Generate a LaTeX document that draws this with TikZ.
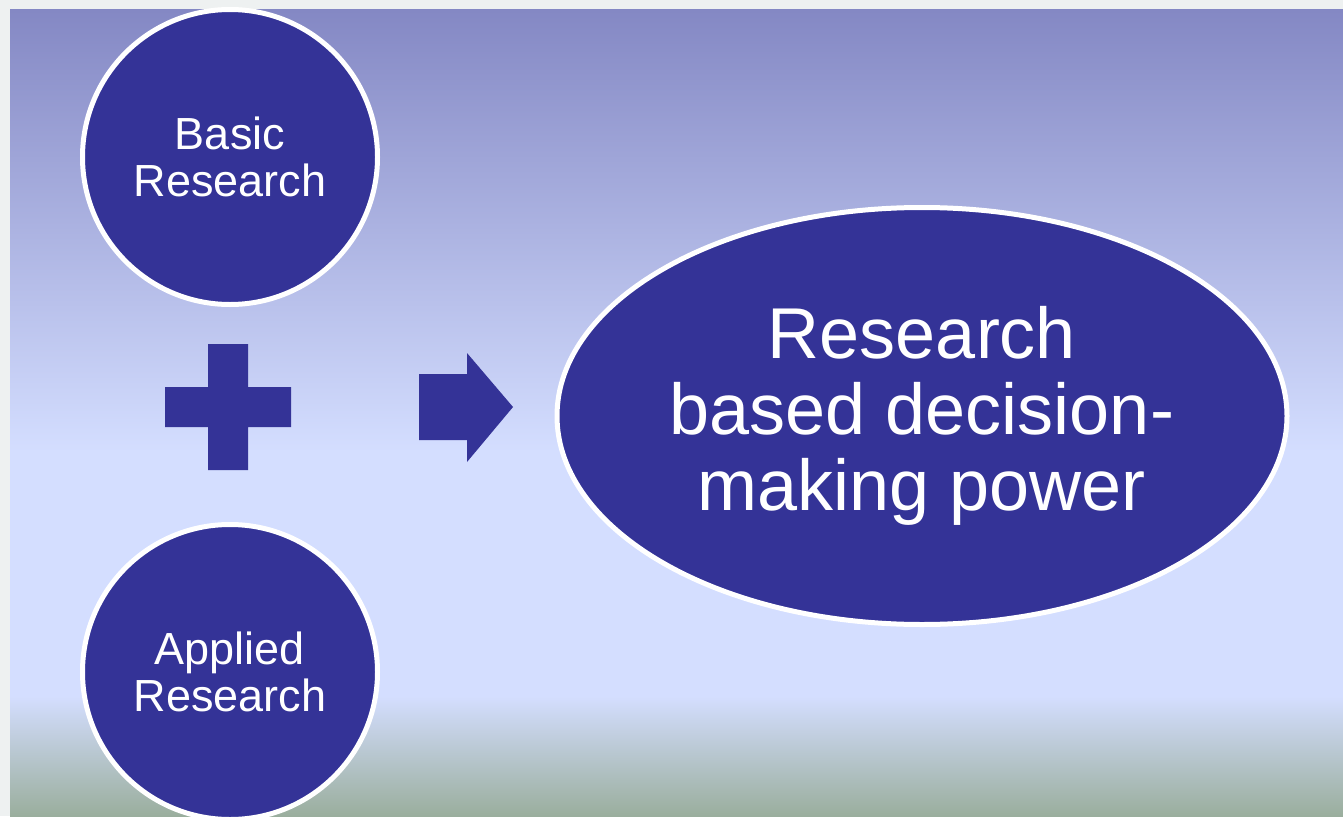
\documentclass[tikz,border=0pt]{standalone}
\usepackage{fontspec}
\setmainfont{Liberation Sans}
\usetikzlibrary{shapes.geometric}
\definecolor{navy}{HTML}{343397}
\definecolor{bgtop}{HTML}{8488C4}
\definecolor{bgmid}{HTML}{D4DEFF}
\definecolor{bgbot}{HTML}{9AAE9D}
\definecolor{frame}{HTML}{EEF1F1}
\tikzset{
  roundbox/.style={circle, fill=navy, draw=white, line width=5pt, minimum size=295pt,
    inner sep=0pt, text=white, align=center, font=\fontsize{45}{47}\selectfont},
  bigoval/.style={ellipse, fill=navy, draw=white, line width=5pt, minimum width=730pt,
    minimum height=417pt, inner sep=0pt, text=white, align=center, font=\fontsize{72}{76}\selectfont},
  symbolshape/.style={fill=navy, draw=none}
}
\begin{document}
\begin{tikzpicture}[x=1pt,y=-1pt]
\useasboundingbox (0,0) rectangle (1343,816);
\clip (0,0) rectangle (1343,816);
\fill[frame] (0,0) rectangle (1343,816);
\shade[top color=bgtop, bottom color=bgmid] (10,10) rectangle (1343,452);
\fill[bgmid] (10,451) rectangle (1343,697);
\shade[top color=bgmid, bottom color=bgbot] (10,696) rectangle (1343,816);
\node[roundbox] (basic) at (230,157) {Basic\\Research};
\node[roundbox] (applied) at (230,672) {Applied\\Research};
\node[bigoval] (power) at (922,416) {Research\\based decision-\\making power};
\fill[symbolshape] (208,344) -- (248,344) -- (248,387) -- (291,387) -- (291,427) -- (248,427)
  -- (248,470) -- (208,470) -- (208,427) -- (165,427) -- (165,387) -- (208,387) -- cycle;
\fill[symbolshape] (419,374) -- (467,374) -- (467,353) -- (513,407) -- (467,462) -- (467,440)
  -- (419,440) -- cycle;
\end{tikzpicture}
\end{document}
